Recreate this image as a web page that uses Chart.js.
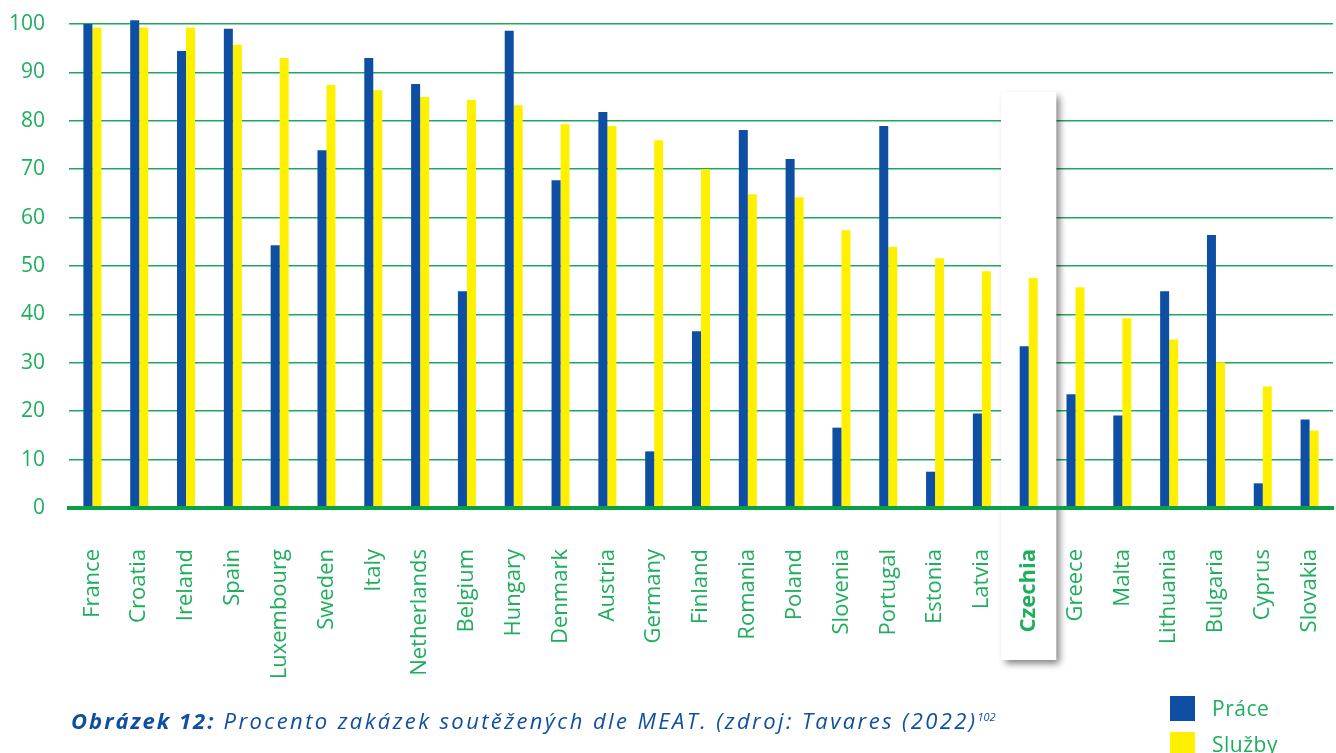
<!DOCTYPE html>
<html lang="cs">
<head>
<meta charset="utf-8">
<title>Procento zakázek soutěžených dle MEAT</title>
<script src="https://cdn.jsdelivr.net/npm/chart.js@4.4.1/dist/chart.umd.min.js"></script>
<style>
    html, body { margin: 0; padding: 0; background: #fff; }
    #wrap { position: relative; width: 1336px; height: 753px; overflow: hidden; font-family: "Open Sans", sans-serif; }
    #chartBox { position: absolute; left: 0; top: 0; width: 1336px; height: 753px; }
    #caption { position: absolute; left: 71px; top: 705px; font-size: 22px; font-style: italic; color: #0e4fa3; letter-spacing: 2.4px; white-space: nowrap; }
    #caption b { font-weight: 700; letter-spacing: 2px; }
    #caption sup { font-size: 11px; letter-spacing: 0; }
    #legend { position: absolute; left: 1170px; top: 690px; }
    .item { display: flex; align-items: center; height: 36px; }
    .swatch { width: 25px; height: 25px; margin-right: 17px; }
    .item span { color: #1fae5d; font-size: 21px; letter-spacing: 0.5px; }
</style>
</head>
<body>
<div id="wrap">
    <div id="chartBox"><canvas id="meatChart"></canvas></div>
    <div id="caption"><b>Obrázek 12:</b> Procento zakázek soutěžených dle MEAT. (zdroj: Tavares (2022)<sup>102</sup></div>
    <div id="legend"></div>
</div>

<script>
// Podíl zakázek zadaných podle MEAT (%), stavební práce a služby
const countries = ['France', 'Croatia', 'Ireland', 'Spain', 'Luxembourg', 'Sweden', 'Italy', 'Netherlands',
    'Belgium', 'Hungary', 'Denmark', 'Austria', 'Germany', 'Finland', 'Romania', 'Poland', 'Slovenia',
    'Portugal', 'Estonia', 'Latvia', 'Czechia', 'Greece', 'Malta', 'Lithuania', 'Bulgaria', 'Cyprus', 'Slovakia'];
const prace = [100, 100.8, 94.4, 99.0, 54.3, 73.9, 93.0, 87.6, 44.8, 98.6, 67.7, 81.8, 11.7, 36.5,
    78.1, 72.1, 16.6, 78.9, 7.5, 19.5, 33.4, 23.5, 19.1, 44.8, 56.4, 5.1, 18.3];
const sluzby = [99.3, 99.3, 99.3, 95.7, 93.0, 87.4, 86.3, 84.9, 84.3, 83.2, 79.3, 78.9, 76.0, 70.0,
    64.8, 64.2, 57.4, 53.9, 51.6, 48.9, 47.5, 45.6, 39.2, 34.8, 30.1, 25.1, 16.0];
const yTicks = [0, 10, 20, 30, 40, 50, 60, 70, 80, 90, 100];
const highlighted = 'Czechia';

const GREEN = '#1fae5d';
const BLUE = '#0e4fa3';
const YELLOW = '#fff000';
const FONT = '"Open Sans", sans-serif';

// bílý pruh se stínem za zvýrazněnou zemí
const highlightPlugin = {
    id: 'highlight',
    beforeDatasetsDraw(chart) {
        const x = chart.scales.x;
        const y = chart.scales.y;
        const idx = countries.indexOf(highlighted);
        const center = x.getPixelForValue(idx);
        const w = (x.width / countries.length) * 1.18;
        const top = y.getPixelForValue(86);
        const bottom = chart.chartArea.bottom + 152;
        const ctx = chart.ctx;
        ctx.save();
        ctx.shadowColor = 'rgba(0, 0, 0, 0.5)';
        ctx.shadowBlur = 7;
        ctx.shadowOffsetX = 4;
        ctx.shadowOffsetY = 4;
        ctx.fillStyle = '#ffffff';
        ctx.fillRect(center - w / 2, top, w, bottom - top);
        ctx.restore();
    }
};

function renderChart(canvas) {
    return new Chart(canvas, {
        type: 'bar',
        data: {
            labels: countries,
            datasets: [
                { label: 'Práce', data: prace, backgroundColor: BLUE },
                { label: 'Služby', data: sluzby, backgroundColor: YELLOW }
            ]
        },
        options: {
            responsive: true,
            maintainAspectRatio: false,
            animation: false,
            layout: { padding: { top: 24, left: 0, right: 3, bottom: 0 } },
            datasets: {
                bar: { categoryPercentage: 0.385, barPercentage: 1, clip: false }
            },
            plugins: {
                legend: { display: false },
                tooltip: { enabled: false }
            },
            scales: {
                x: {
                    grid: { display: false },
                    border: { display: true, color: '#0aa04a', width: 4, z: 1 },
                    ticks: {
                        z: 1,
                        autoSkip: false,
                        minRotation: 90,
                        maxRotation: 90,
                        padding: 33,
                        color: GREEN,
                        font: (ctx) => ({
                            family: FONT,
                            size: 22,
                            weight: countries[ctx.index] === highlighted ? 'bold' : 'normal'
                        })
                    },
                    afterFit: (scale) => {
                        scale.height = 245;
                        scale.paddingLeft = 0;
                        scale.paddingRight = 0;
                    }
                },
                y: {
                    min: 0,
                    max: 100,
                    border: { display: false },
                    grid: { color: '#1da95b', lineWidth: 1.6, drawTicks: false },
                    ticks: {
                        padding: 24,
                        color: GREEN,
                        font: { family: FONT, size: 21 }
                    },
                    afterBuildTicks: (scale) => { scale.ticks = yTicks.map(v => ({ value: v })); },
                    afterFit: (scale) => {
                        scale.width = 69;
                        scale.paddingTop = 0;
                        scale.paddingBottom = 0;
                    }
                }
            }
        },
        plugins: [highlightPlugin]
    });
}

function buildLegend(chart) {
    const box = document.getElementById('legend');
    chart.data.datasets.forEach(ds => {
        const item = document.createElement('div');
        item.className = 'item';
        const sw = document.createElement('div');
        sw.className = 'swatch';
        sw.style.background = ds.backgroundColor;
        const txt = document.createElement('span');
        txt.textContent = ds.label;
        item.appendChild(sw);
        item.appendChild(txt);
        box.appendChild(item);
    });
}

const chart = renderChart(document.getElementById('meatChart'));
buildLegend(chart);
</script>
</body>
</html>
